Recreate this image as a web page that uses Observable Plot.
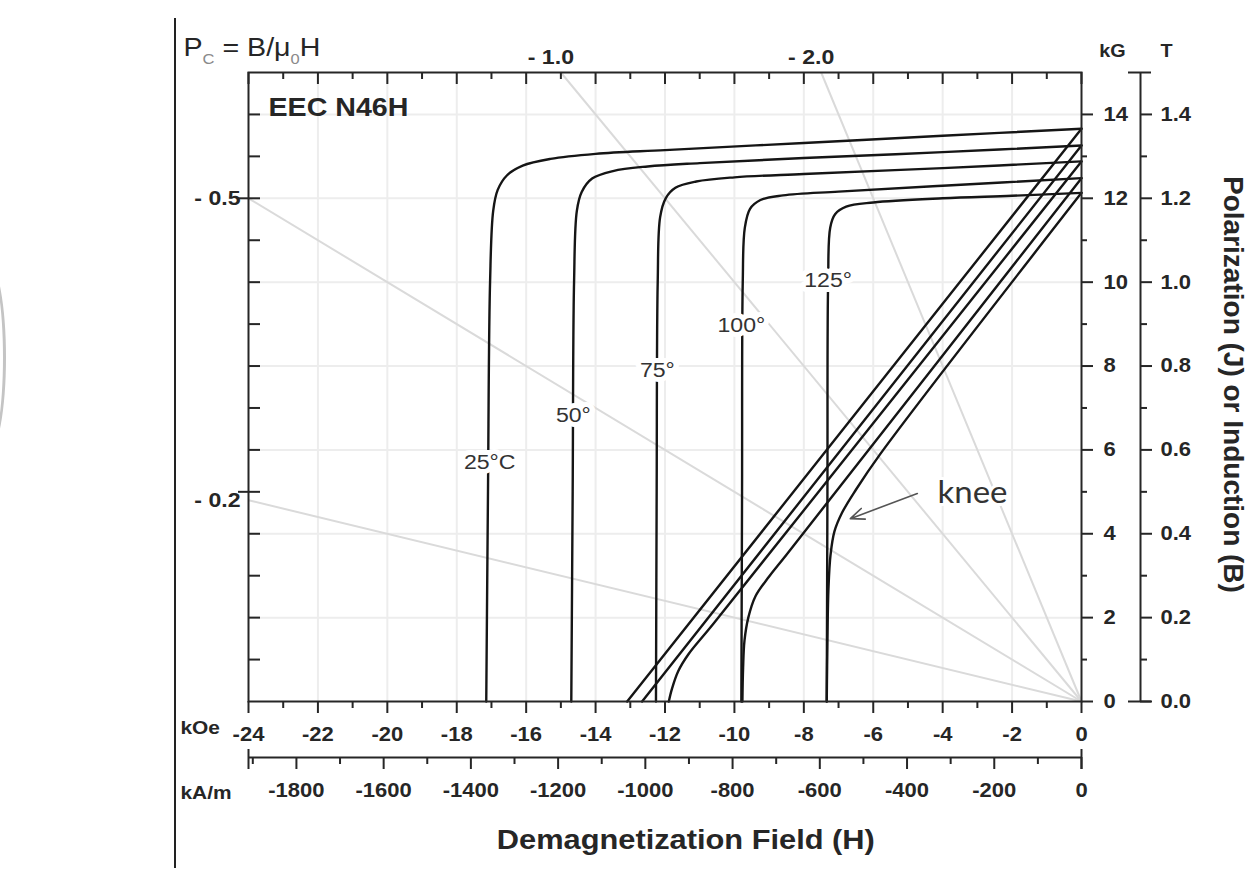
<!DOCTYPE html>
<html><head><meta charset="utf-8">
<script src="https://cdn.jsdelivr.net/npm/d3@7"></script>
<script src="https://cdn.jsdelivr.net/npm/@observablehq/plot@0.6"></script>
<style>
html,body{margin:0;padding:0;background:#fff;}
#wrap{position:relative;width:1249px;height:873px;overflow:hidden;background:#fff;}
#vline{position:absolute;left:174px;top:18px;width:2px;height:850px;background:#222;}
#arc{position:absolute;left:-30px;top:262px;width:30px;height:185px;border:3px solid #c4c4c4;border-radius:50%;}
</style></head><body><div id="wrap"><div id="arc"></div><div id="vline"></div></div>
<script>
// ---- tick values ----
const kOeMajor = [-24,-22,-20,-18,-16,-14,-12,-10,-8,-6,-4,-2,0];
const kOeMinor = [-23,-21,-19,-17,-15,-13,-11,-9,-7,-5,-3,-1];
const kAmMajor = [-1800,-1600,-1400,-1200,-1000,-800,-600,-400,-200,0];
const kAmMinor = [-1900,-1700,-1500,-1300,-1100,-900,-700,-500,-300,-100];
const kGMajor = [0,2,4,6,8,10,12,14];
const kGMinor = [1,3,5,7,9,11,13];
const leftTicks = [1,2,3,4,5,6,7,8,9,10,11,12,13,14];
const teslaMajor = [0.0,0.2,0.4,0.6,0.8,1.0,1.2,1.4];
const teslaMinor = [0.1,0.3,0.5,0.7,0.9,1.1,1.3];
// ---- load lines (permeance coefficient Pc = B/mu0H) ----
const loadLineSlopes = [-0.2,-0.5,-1.0,-2.0];
const pcLeftLabels = [-0.5,-0.2];
const pcLeftTickB = [12,5];
const pcTopLabels = [-1.0,-2.0];
// ---- temperature labels ----
const temperatures = ["25°C","50°","75°","100°","125°"];
const tempLabelH = [-17.05,-14.64,-12.22,-9.8,-7.3];
const tempLabelB = [5.7,6.82,7.9,8.97,10.05];
// ---- intrinsic (J) curves [H kOe, J kG] ----
const j25 = [[-17.15,0],[-17.1,5],[-17.04,10],[-16.95,11.7],[-16.82,12.2],[-16.55,12.55],[-16.1,12.78],[-15.3,12.94],[-14.0,13.06],[-12.0,13.15],[-8.0,13.32],[-4.0,13.49],[0,13.66]];
const j50 = [[-14.7,0],[-14.66,5],[-14.62,10],[-14.54,11.7],[-14.4,12.15],[-14.1,12.47],[-13.5,12.65],[-12.5,12.76],[-11.0,12.84],[-8.0,12.96],[-4.0,13.1],[0,13.26]];
const j75 = [[-12.26,0],[-12.24,5],[-12.21,10],[-12.14,11.55],[-11.98,12.0],[-11.7,12.25],[-11.1,12.4],[-10.0,12.5],[-8.0,12.58],[-4.0,12.72],[0,12.88]];
const j100 = [[-9.8,0],[-9.78,5],[-9.76,10],[-9.7,11.3],[-9.55,11.75],[-9.25,11.96],[-8.6,12.07],[-7.0,12.16],[-4.0,12.3],[0,12.48]];
const j125 = [[-7.34,0],[-7.32,5],[-7.3,10],[-7.24,11.3],[-7.1,11.62],[-6.78,11.8],[-6.0,11.9],[-4.0,12.0],[-2.0,12.06],[0,12.13]];
// ---- normal (B) curves [H kOe, B kG] ----
const b25 = [[-13.09,0],[0,13.66]];
const b50 = [[-12.66,0],[0,13.26]];
const b75 = [[-11.89,0],[-11.8,0.3],[-11.62,0.72],[-11.33,1.12],[-10.6,1.86],[0,12.88]];
const b100 = [[-9.77,0],[-9.75,0.8],[-9.71,1.45],[-9.6,2.0],[-9.4,2.5],[-9.0,2.98],[-8.5,3.5],[0,12.48]];
const b125 = [[-7.34,0],[-7.32,1.5],[-7.29,2.7],[-7.23,3.5],[-7.12,4.05],[-6.9,4.5],[-6.5,5.05],[-5.8,5.9],[0,12.13]];
// ---- annotation ----
const kneeText = ["knee"];
const kneeTextPos = [-3.14, 4.96];
const kneeArrow = [{H1: -4.73, B1: 4.96, H2: -6.66, B2: 4.36}];

const KAM_PER_KOE = 1000 / (4 * Math.PI);

const toRows = (pts, id) => pts.map(([H, B]) => ({H, B, id}));
const curveRows = [
  ...[j25, j50, j75, j100, j125].flatMap((c, i) => toRows(c, "J" + i)),
  ...[b25, b50, b75, b100, b125].flatMap((c, i) => toRows(c, "B" + i))
];
const loadLines = loadLineSlopes.map(pc => { const H = Math.max(-24, 15 / pc); return {pc, H, B: pc * H}; });
const tempRows = temperatures.map((t, i) => ({t, H: tempLabelH[i], B: tempLabelB[i]}));

const ink = "#262626";
const ax = {stroke: ink, strokeWidth: 2};
const bold = {fontWeight: "bold", fill: ink};

const svg = Plot.plot({
  width: 1249, height: 873,
  marginLeft: 248, marginRight: 168, marginTop: 72, marginBottom: 172,
  x: {domain: [-24, 0], axis: null},
  y: {domain: [0, 15], axis: null},
  style: {fontFamily: "'Liberation Sans', Arial, sans-serif", fontSize: "20px", background: "white", overflow: "visible", color: ink},
  marks: [
    // grid
    Plot.ruleX(kOeMajor.filter(v => v > -24 && v < 0), {x: d => d, stroke: "#ededed", strokeWidth: 2}),
    Plot.ruleY(kGMajor.filter(v => v > 0), {y: d => d, stroke: "#ededed", strokeWidth: 2}),
    // load lines
    Plot.link(loadLines, {x1: () => 0, y1: () => 0, x2: "H", y2: "B", stroke: "#dadada", strokeWidth: 2}),
    // curves
    Plot.line(curveRows, {x: "H", y: "B", z: "id", curve: "catmull-rom", stroke: "#151515", strokeWidth: 2.4}),
    // temperature labels
    Plot.text(tempRows, {x: "H", y: "B", text: "t", fontSize: 21, fill: "#333", stroke: "white", strokeWidth: 10}),
    // knee annotation
    Plot.arrow(kneeArrow, {x1: "H1", y1: "B1", x2: "H2", y2: "B2", stroke: "#555", strokeWidth: 1.6, headLength: 14, headAngle: 45}),
    Plot.text(kneeText, {x: () => kneeTextPos[0], y: () => kneeTextPos[1], text: d => d, fontFamily: "Lato, 'Open Sans', sans-serif", fontSize: 30, fill: "#333", stroke: "white", strokeWidth: 6}),
    // frame
    Plot.frame({stroke: ink, strokeWidth: 2}),
    // top ticks (inward)
    Plot.ruleX(kOeMajor, {x: d => d, y1: () => 15, y2: () => 15, insetBottom: -12, ...ax}),
    Plot.ruleX(kOeMinor, {x: d => d, y1: () => 15, y2: () => 15, insetBottom: -7, ...ax}),
    // bottom kOe ticks (outward)
    Plot.ruleX(kOeMajor, {x: d => d, y1: () => 0, y2: () => 0, insetBottom: -12, ...ax}),
    Plot.ruleX(kOeMinor, {x: d => d, y1: () => 0, y2: () => 0, insetBottom: -7, ...ax}),
    // kA/m axis
    Plot.ruleY([0], {y: d => d, x1: () => -24, x2: () => 0, dy: 56, ...ax}),
    Plot.ruleX([-24, 0], {x: d => d, y1: () => 0, y2: () => 0, insetTop: 48, insetBottom: -68, ...ax}),
    Plot.ruleX(kAmMajor, {x: d => d / KAM_PER_KOE, y1: () => 0, y2: () => 0, insetTop: 56, insetBottom: -68, ...ax}),
    Plot.ruleX(kAmMinor, {x: d => d / KAM_PER_KOE, y1: () => 0, y2: () => 0, insetTop: 56, insetBottom: -63, ...ax}),
    // left ticks (inward) and Pc label ticks (outward)
    Plot.ruleY(leftTicks, {y: d => d, x1: () => -24, x2: () => -24, insetRight: -12, ...ax}),
    Plot.ruleY(pcLeftTickB, {y: d => d, x1: () => -24, x2: () => -24, insetLeft: -10, ...ax}),
    // right kG ticks
    Plot.ruleY(kGMajor, {y: d => d, x1: () => 0, x2: () => 0, insetRight: -12, ...ax}),
    Plot.ruleY(kGMinor, {y: d => d, x1: () => 0, x2: () => 0, insetRight: -6, ...ax}),
    // tesla axis
    Plot.ruleX([0], {x: d => d, y1: () => 0, y2: () => 15, dx: 59, ...ax}),
    Plot.ruleY([0, 15], {y: d => d, x1: () => 0, x2: () => 0, insetLeft: 47, insetRight: -70, ...ax}),
    Plot.ruleY(teslaMajor, {y: d => d * 10, x1: () => 0, x2: () => 0, insetLeft: 59, insetRight: -71, ...ax}),
    Plot.ruleY(teslaMinor, {y: d => d * 10, x1: () => 0, x2: () => 0, insetLeft: 59, insetRight: -66, ...ax}),
    // tick labels
    Plot.text(kOeMajor, {x: d => d, y: () => 0, dy: 33, text: d => String(d), fontSize: 20, ...bold}),
    Plot.text(kAmMajor, {x: d => d / KAM_PER_KOE, y: () => 0, dy: 89, text: d => String(d), fontSize: 20, ...bold}),
    Plot.text(kGMajor, {x: () => 0, y: d => d, dx: 22, text: d => String(d), textAnchor: "start", fontSize: 20, ...bold}),
    Plot.text(teslaMajor, {x: () => 0, y: d => d * 10, dx: 79, text: d => d.toFixed(1), textAnchor: "start", fontSize: 20, ...bold}),
    // unit labels
    Plot.text(["kOe"], {x: () => -24, y: () => 0, dx: -68, dy: 26, text: d => d, textAnchor: "start", fontSize: 19, ...bold}),
    Plot.text(["kA/m"], {x: () => -24, y: () => 0, dx: -68, dy: 91, text: d => d, textAnchor: "start", fontSize: 19, ...bold}),
    Plot.text(["kG"], {x: () => 0, y: () => 15, dx: 31, dy: -21, text: d => d, fontSize: 18, ...bold}),
    Plot.text(["T"], {x: () => 0, y: () => 15, dx: 85, dy: -21, text: d => d, fontSize: 18, ...bold}),
    // Pc labels
    Plot.text(pcLeftLabels, {x: () => -24, y: d => d * -24, dx: -8, text: d => "- " + Math.abs(d).toFixed(1), textAnchor: "end", fontSize: 21, ...bold}),
    Plot.text(pcTopLabels, {x: d => 15 / d, y: () => 15, dx: -10, dy: -15, text: d => "- " + Math.abs(d).toFixed(1), fontSize: 21, ...bold}),
    Plot.text(["PC = B/μ0H"], {x: () => -24, y: () => 15, dx: -65, dy: -25, text: d => d, textAnchor: "start", fontSize: 26, fill: ink}),
    Plot.text(["EEC N46H"], {x: () => -24, y: () => 15, dx: 20, dy: 35, text: d => d, textAnchor: "start", fontSize: 26, ...bold}),
    // axis titles
    Plot.text(["Demagnetization Field (H)"], {x: () => -11.4, y: () => 0, dy: 139, text: d => d, fontSize: 28, ...bold}),
    Plot.text(["Polarization (J) or Induction (B)"], {x: () => 0, y: () => 7.56, dx: 151, rotate: 90, text: d => d, fontSize: 28, ...bold})
  ]
});
document.getElementById("wrap").appendChild(svg);

// subscripts in the Pc label
d3.select(svg).selectAll("text").filter(function () { return this.textContent === "PC = B/μ0H"; }).each(function () {
  const t = d3.select(this);
  t.text("");
  t.append("tspan").text("P");
  t.append("tspan").attr("dy", 8).attr("font-size", 15).attr("fill", "#8a8a8a").text("C");
  t.append("tspan").attr("dy", -8).text(" = B/μ");
  t.append("tspan").attr("dy", 8).attr("font-size", 15).attr("fill", "#8a8a8a").text("0");
  t.append("tspan").attr("dy", -8).text("H");
});
// the reference's lettering is slightly wide: stretch horizontal text a little
svg.querySelectorAll("text").forEach(t => {
  const tr = t.getAttribute("transform");
  if (tr && !tr.includes("rotate")) t.setAttribute("transform", tr + " scale(1.1,1)");
});
</script></body></html>
